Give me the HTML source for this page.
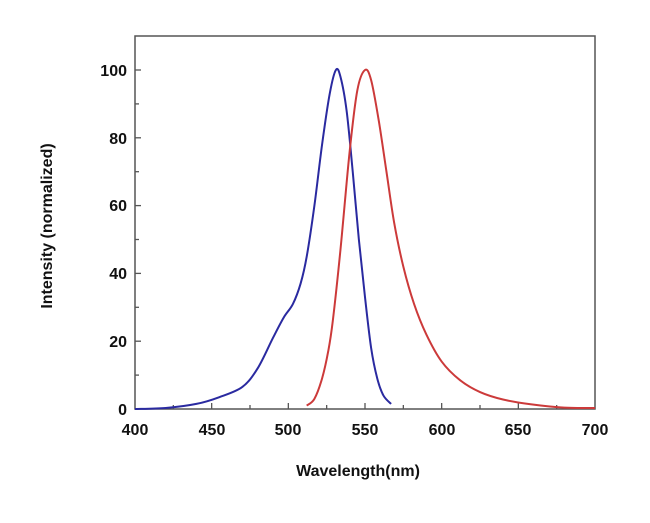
<!DOCTYPE html>
<html><head><style>body{margin:0;background:#fff}</style></head><body>
<svg id="s" width="650" height="518" xmlns="http://www.w3.org/2000/svg" font-family="Liberation Sans, sans-serif" font-weight="bold">
<rect x="135" y="36" width="460" height="373" fill="none" stroke="#555" stroke-width="1.5"/>
<g id="ticks" stroke="#555" stroke-width="1.3"></g>
<g font-size="16" fill="#111" text-anchor="middle">
<text x="135" y="435">400</text><text x="212" y="435">450</text><text x="288" y="435">500</text><text x="365" y="435">550</text><text x="442" y="435">600</text><text x="518" y="435">650</text><text x="595" y="435">700</text>
</g>
<g font-size="16" fill="#111" text-anchor="end">
<text x="127" y="415">0</text><text x="127" y="347">20</text><text x="127" y="279">40</text><text x="127" y="211">60</text><text x="127" y="144">80</text><text x="127" y="76">100</text>
</g>
<text x="358" y="476" font-size="16" text-anchor="middle" fill="#111">Wavelength(nm)</text>
<text transform="translate(52,226) rotate(-90)" font-size="16" text-anchor="middle" fill="#111">Intensity (normalized)</text>
<path id="b" fill="none" stroke="#2a2aa0" stroke-width="2"/>
<path id="r" fill="none" stroke="#cc3a3a" stroke-width="2"/>
</svg>
<script>
const X=n=>135+(n-400)*460/300, Y=v=>409-v*3.39;
let t='';
for(let n=425;n<700;n+=25){const l=(n%50==0)?6:4;t+=`<line x1="${X(n)}" y1="409" x2="${X(n)}" y2="${409-l}"/>`;}
for(let v=10;v<=100;v+=10){const l=(v%20==0)?6:4;t+=`<line x1="135" y1="${Y(v)}" x2="${135+l}" y2="${Y(v)}"/>`;}
document.getElementById('ticks').innerHTML=t;
function path(d){const p=d.map(a=>[X(a[0]),Y(a[1])]);let s=`M${p[0]}`;
for(let i=0;i<p.length-1;i++){const p0=p[i-1]||p[i],p1=p[i],p2=p[i+1],p3=p[i+2]||p2;
s+=`C${p1[0]+(p2[0]-p0[0])/6},${p1[1]+(p2[1]-p0[1])/6} ${p2[0]-(p3[0]-p1[0])/6},${p2[1]-(p3[1]-p1[1])/6} ${p2[0]},${p2[1]}`;}return s;}
const B=[[400,0],[420,0.3],[440,1.5],[455,3.5],[470,6.5],[480,12],[490,21],[497,27],[503,31],[508,37],[512,45],[517,60],[522,78],[527,93],[531,100],[534,98],[538,88],[542,70],[546,50],[550,33],[554,18],[558,9],[562,4],[567,1.5]];
const R=[[512,1],[517,3],[522,9],[526,17],[529,26],[534,47],[540,76],[545,94],[550,100],[554,97],[559,85],[564,70],[569,55],[575,42],[582,31],[590,22],[600,14],[612,8.5],[625,5],[640,2.8],[658,1.4],[680,0.4],[700,0.3]];
document.getElementById('b').setAttribute('d',path(B));
document.getElementById('r').setAttribute('d',path(R));
</script>
</body></html>
